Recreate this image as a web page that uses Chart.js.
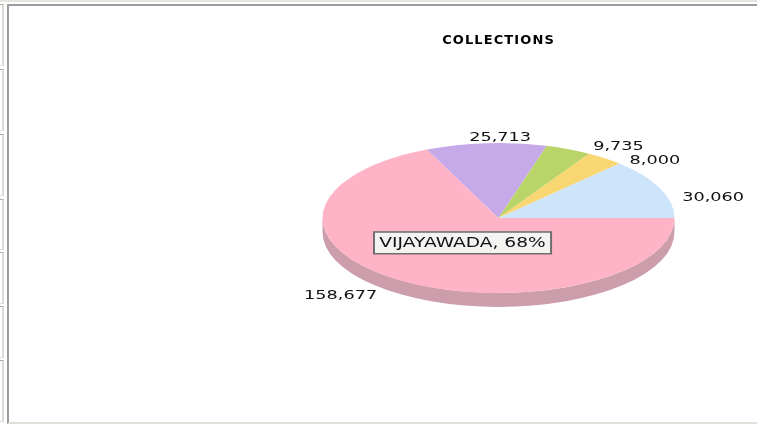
<!DOCTYPE html>
<html>
<head>
<meta charset="utf-8">
<title>COLLECTIONS</title>
<script src="https://cdn.jsdelivr.net/npm/chart.js@4/dist/chart.umd.min.js"></script>
<style>
    html, body { margin: 0; padding: 0; background: #fff; overflow: hidden; }
    #page { position: relative; width: 757px; height: 425px; overflow: hidden; }
    #topBand { position: absolute; left: 0; top: 0; width: 757px; height: 2px; background: #e6e4de; }
    #panel { position: absolute; left: 7px; top: 4px; width: 760px; height: 416px;
             border-left: 2px solid #9c9c9c; border-top: 2px solid #9c9c9c; border-bottom: 2px solid #e0dfd9; }
    .side { position: absolute; left: -4px; width: 6px; border-right: 2px solid #dcdad4; border-top: 1px solid #a8a8a8; border-bottom: 1px solid #e0dfd9; }
    #chart { position: absolute; left: 0; top: 0; filter: blur(0.35px); }
</style>
</head>
<body>
<div id="page">
    <div id="topBand"></div>
    <div class="side" style="top:4px;height:60px"></div>
    <div class="side" style="top:69px;height:60px"></div>
    <div class="side" style="top:134px;height:60px"></div>
    <div class="side" style="top:199px;height:49px"></div>
    <div class="side" style="top:252px;height:50px"></div>
    <div class="side" style="top:306px;height:50px"></div>
    <div class="side" style="top:360px;height:60px"></div>
    <div id="panel"></div>
    <canvas id="chart" width="757" height="425"></canvas>
</div>
<script>
/* Dados */
const chartTitle = 'COLLECTIONS';
const categories = ['VIJAYAWADA', '', '', '', ''];
const collections = [158677, 25713, 9735, 8000, 30060];
const sliceColors = ['#ffb3c6', '#c6a9e8', '#b9d56a', '#f8d672', '#cde5fa'];
const sideColors = ['#cc9dab', '#9e87ba', '#94aa55', '#c6ab5b', '#a4b7c8'];

/* Ajuste fino de cada rótulo em relação à borda da fatia */
const labelNudge = [[-62, 15], [14, -6], [50, -3], [50, 2], [53, 9]];

const FLATTEN = 75 / 176;   // achatamento da pizza
const DEPTH = 14;           // altura da lateral em px
const LABEL_FONT = '13px "DejaVu Sans"';
const LABEL_STRETCH = 1.36;
const TOOLTIP_STRETCH = 1.33;
const TOOLTIP_X = 374;
const TOOLTIP_Y = 232;

const total = collections.reduce((s, v) => s + v, 0);

/* Achata a pizza e desenha a lateral por baixo */
const pie3d = {
    id: 'pie3d',
    beforeDraw(chart) {
        chart.ctx.letterSpacing = '1.1px';  // só para o título
    },
    beforeDatasetsDraw(chart) {
        const ctx = chart.ctx;
        ctx.letterSpacing = '0px';
        const arcs = chart.getDatasetMeta(0).data;
        const { x: cx, y: cy, outerRadius: r } = arcs[0];
        const ry = r * FLATTEN;

        arcs.forEach((arc, i) => {
            const start = Math.max(arc.startAngle, 0);
            const end = Math.min(arc.endAngle, Math.PI);
            if (end <= start) return;
            ctx.save();
            ctx.fillStyle = sideColors[i];
            ctx.beginPath();
            ctx.ellipse(cx, cy, r, ry, 0, start, end);
            ctx.ellipse(cx, cy + DEPTH, r, ry, 0, end, start, true);
            ctx.closePath();
            ctx.fill();
            ctx.restore();
        });

        ctx.save();
        ctx.translate(0, cy);
        ctx.scale(1, FLATTEN);
        ctx.translate(0, -cy);
    },
    afterDatasetsDraw(chart) {
        const ctx = chart.ctx;
        ctx.restore();

        /* Rótulos de valor */
        const arcs = chart.getDatasetMeta(0).data;
        ctx.save();
        ctx.font = LABEL_FONT;
        ctx.fillStyle = '#111';
        ctx.textAlign = 'center';
        ctx.textBaseline = 'middle';
        arcs.forEach((arc, i) => {
            const mid = (arc.startAngle + arc.endAngle) / 2;
            const x = arc.x + Math.cos(mid) * arc.outerRadius + labelNudge[i][0];
            const y = arc.y + Math.sin(mid) * arc.outerRadius * FLATTEN + labelNudge[i][1];
            ctx.save();
            ctx.translate(x, y);
            ctx.scale(LABEL_STRETCH, 1);
            ctx.fillText(collections[i].toLocaleString('en-US'), 0, 0);
            ctx.restore();
        });
        ctx.restore();
    },
    /* A fonte do original é bem mais larga: estica a caixa da dica */
    beforeTooltipDraw(chart) {
        const ctx = chart.ctx;
        ctx.save();
        ctx.translate(TOOLTIP_X, 0);
        ctx.scale(TOOLTIP_STRETCH, 1);
        ctx.translate(-TOOLTIP_X, 0);
    },
    afterTooltipDraw(chart) {
        chart.ctx.restore();
    }
};

/* Caixa da dica fixa, como na imagem */
Chart.Tooltip.positioners.caixaFixa = () => ({ x: TOOLTIP_X, y: TOOLTIP_Y });

const chart = new Chart(document.getElementById('chart').getContext('2d'), {
    type: 'pie',
    data: {
        labels: categories,
        datasets: [{
            data: collections,
            backgroundColor: sliceColors,
            hoverBackgroundColor: sliceColors,
            borderWidth: 0,
            hoverBorderWidth: 0,
            hoverOffset: 0
        }]
    },
    options: {
        responsive: false,
        animation: false,
        rotation: 90,
        radius: 176,
        events: [],
        layout: { padding: { left: 322.5, right: 82.5, top: 33.5, bottom: 36.8 } },
        plugins: {
            legend: { display: false },
            title: {
                display: true,
                text: chartTitle,
                color: '#000',
                padding: 0,
                font: { family: '"DejaVu Sans"', size: 13, weight: 'bold', lineHeight: 1.1 }
            },
            tooltip: {
                position: 'caixaFixa',
                xAlign: 'left',
                yAlign: 'top',
                caretSize: 0,
                caretPadding: 0,
                cornerRadius: 0,
                displayColors: false,
                backgroundColor: '#f3f3f1',
                borderColor: '#6e6e6e',
                borderWidth: 1.5,
                bodyColor: '#111',
                bodyFont: { family: '"DejaVu Sans"', size: 14 },
                padding: { left: 4, right: 4, top: 3, bottom: 2 },
                callbacks: {
                    title: () => '',
                    label: (c) => `${c.label}, ${Math.round(c.parsed / total * 100)}%`
                }
            }
        }
    },
    plugins: [pie3d]
});

chart.tooltip.setActiveElements([{ datasetIndex: 0, index: 0 }], { x: 0, y: 0 });
chart.update();
</script>
</body>
</html>
